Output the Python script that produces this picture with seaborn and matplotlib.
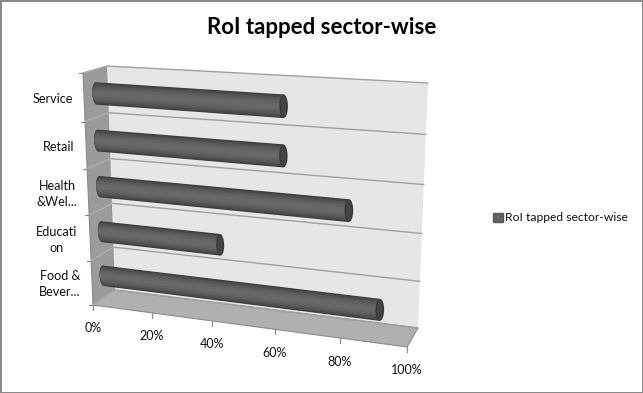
"""RoI tapped sector-wise: Excel-style 3D cylinder bars, drawn through a box projection."""
import matplotlib
matplotlib.use("Agg")
import matplotlib.pyplot as plt
import numpy as np
import seaborn as sns
from matplotlib.patches import Patch, Polygon, Rectangle
from matplotlib.transforms import Affine2D, Transform

CATEGORIES = ["Service", "Retail", "Health\n&Wel...", "Educati\non", "Food &\nBever..."]
VALUES = [60, 60, 80, 40, 90]
TICKS = [0, 20, 40, 60, 80, 100]
TICK_LABELS = ["0%", "20%", "40%", "60%", "80%", "100%"]
SERIES = "RoI tapped sector-wise"
TITLE = "RoI tapped sector-wise"

W, H = 643, 393
LABEL_X = [52.5, 59, 57, 57, 60]
LABEL_Y = [99, 147, 194, 240, 284]
FONT = "Lato"

# value/category box corners in image pixels: (0,top) (100,top) (0,bottom) (100,bottom)
FRONT = [(83, 73), (416, 96), (93, 305), (407, 347)]
BACK = [(107, 66), (428, 83), (115, 290), (418, 328)]
MID = [((a[0] + b[0]) / 2, (a[1] + b[1]) / 2) for a, b in zip(FRONT, BACK)]
CAT_MIN, CAT_MAX = -0.5, 4.5

# outer to inner: relative width, colour
BANDS = [(0.47, "#3a3a3a"), (0.44, "#444444"), (0.40, "#4c4c4c"), (0.35, "#545454"),
         (0.29, "#5b5b5b"), (0.22, "#626262"), (0.12, "#686868")]


def fit_homography(corners):
    src = [(0, CAT_MIN), (100, CAT_MIN), (0, CAT_MAX), (100, CAT_MAX)]
    rows, rhs = [], []
    for (u, v), (x, y) in zip(src, corners):
        rows.append([u, v, 1, 0, 0, 0, -u * x, -v * x])
        rows.append([0, 0, 0, u, v, 1, -u * y, -v * y])
        rhs += [x, y]
    return np.append(np.linalg.solve(np.array(rows, float), np.array(rhs, float)), 1).reshape(3, 3)


class Box(Transform):
    input_dims = output_dims = 2
    is_affine = False
    has_inverse = False

    def __init__(self, corners):
        super().__init__()
        self.m = fit_homography(corners)

    def transform_non_affine(self, values):
        pts = np.column_stack([np.asarray(values, float), np.ones(len(values))])
        out = pts @ self.m.T
        return out[:, :2] / out[:, 2:]


to_display = Affine2D().scale(1, -1).translate(0, H)
back_t = Box(BACK) + to_display
mid_t = Box(MID) + to_display
px = lambda box, u, v: tuple(Box(box).transform_non_affine(np.array([[u, v]], float))[0])

sns.set_theme(style="white")
plt.rcParams["font.family"] = [FONT, "DejaVu Sans"]

fig = plt.figure(figsize=(W / 100, H / 100), dpi=100, facecolor="white")
ax = fig.add_axes([0, 0, 1, 1])
ax.axis("off")

pix = to_display
fig.add_artist(Rectangle((0.5, 0.5), W - 1, H - 1, transform=pix, fill=False,
                         edgecolor="#868686", linewidth=1.4))

# walls of the box
edge = "#8c8c8c"
ax.add_patch(Polygon([FRONT[0], BACK[0], BACK[2], FRONT[2]], transform=pix, facecolor="#9b9b9b",
                     edgecolor=edge, linewidth=0.8, zorder=0.2, clip_on=False))
ax.add_patch(Polygon([BACK[0], BACK[1], BACK[3], BACK[2]], transform=pix, facecolor="#e6e6e6",
                     edgecolor="none", zorder=0.2, clip_on=False))
ax.add_patch(Polygon([BACK[2], BACK[3], FRONT[3], FRONT[2]], transform=pix, facecolor="#b0b0b0",
                     edgecolor=edge, linewidth=0.8, zorder=0.2, clip_on=False))

# gridlines across the wall, down the side wall, and tick marks
for i in range(6):
    c = CAT_MIN + i
    ax.plot([0, 100], [c, c], transform=back_t, color="#a0a0a0", lw=1.0, zorder=0.4, clip_on=False)
    a, b = px(FRONT, 0, c), px(BACK, 0, c)
    ax.plot([a[0], b[0]], [a[1], b[1]], transform=pix, color="#b2b2b2", lw=0.8, zorder=0.4, clip_on=False)
    ax.plot([a[0] - 4, a[0]], [a[1], a[1]], transform=pix, color=edge, lw=0.9, clip_on=False)

for t, lab in zip(TICKS, TICK_LABELS):
    x, y = px(FRONT, t, CAT_MAX)
    ax.plot([x, x], [y, y + 5], transform=pix, color=edge, lw=0.9, clip_on=False)
    ax.text(x, y + 23.5, lab, transform=pix, ha="center", va="center", fontsize=9.0, color="#111111")

for lab, x, y in zip(CATEGORIES, LABEL_X, LABEL_Y):
    ax.text(x, y, lab, transform=pix, ha="center", va="center", fontsize=9.1, color="#111111",
            linespacing=1.3)


def cap(value, cat, half_w, half_h):
    t = np.linspace(0, 2 * np.pi, 40)
    return np.column_stack([value + half_w * np.cos(t), cat + half_h * np.sin(t)])


# cylinders: nested bars from the outer dark rim to the light core
for width, shade in BANDS:
    n = len(ax.patches)
    sns.barplot(x=VALUES, y=CATEGORIES, orient="h", color=shade, saturation=1, width=width,
                errorbar=None, linewidth=0, ax=ax)
    for p in ax.patches[n:]:
        p.set_transform(mid_t)
        p.set_clip_on(False)
    for i in range(len(CATEGORIES)):
        ax.add_patch(Polygon(cap(0, i, 1.2, width / 2), transform=mid_t, facecolor=shade,
                             edgecolor="none", zorder=1, clip_on=False))

for i, v in enumerate(VALUES):
    ax.add_patch(Polygon(cap(v, i, 1.3, BANDS[0][0] / 2), transform=mid_t, facecolor="#3a3a3a",
                         edgecolor="none", zorder=2, clip_on=False))
    ax.add_patch(Polygon(cap(v, i, 0.8, BANDS[2][0] / 2), transform=mid_t, facecolor="#454545",
                         edgecolor="none", zorder=2, clip_on=False))

ax.axis("off")

fig.text(322 / W, 1 - 27 / H, TITLE, ha="center", va="center", fontsize=16, fontweight="bold",
         color="black")
fig.legend(handles=[Patch(facecolor="#636363", edgecolor="#555555", label=SERIES)],
           loc="center left", bbox_to_anchor=(482 / W, 1 - 218 / H), frameon=False,
           handlelength=0.8, handleheight=0.8, handletextpad=0.2, fontsize=8.7,
           labelcolor="#111111")

fig.savefig("out.png", dpi=100)
